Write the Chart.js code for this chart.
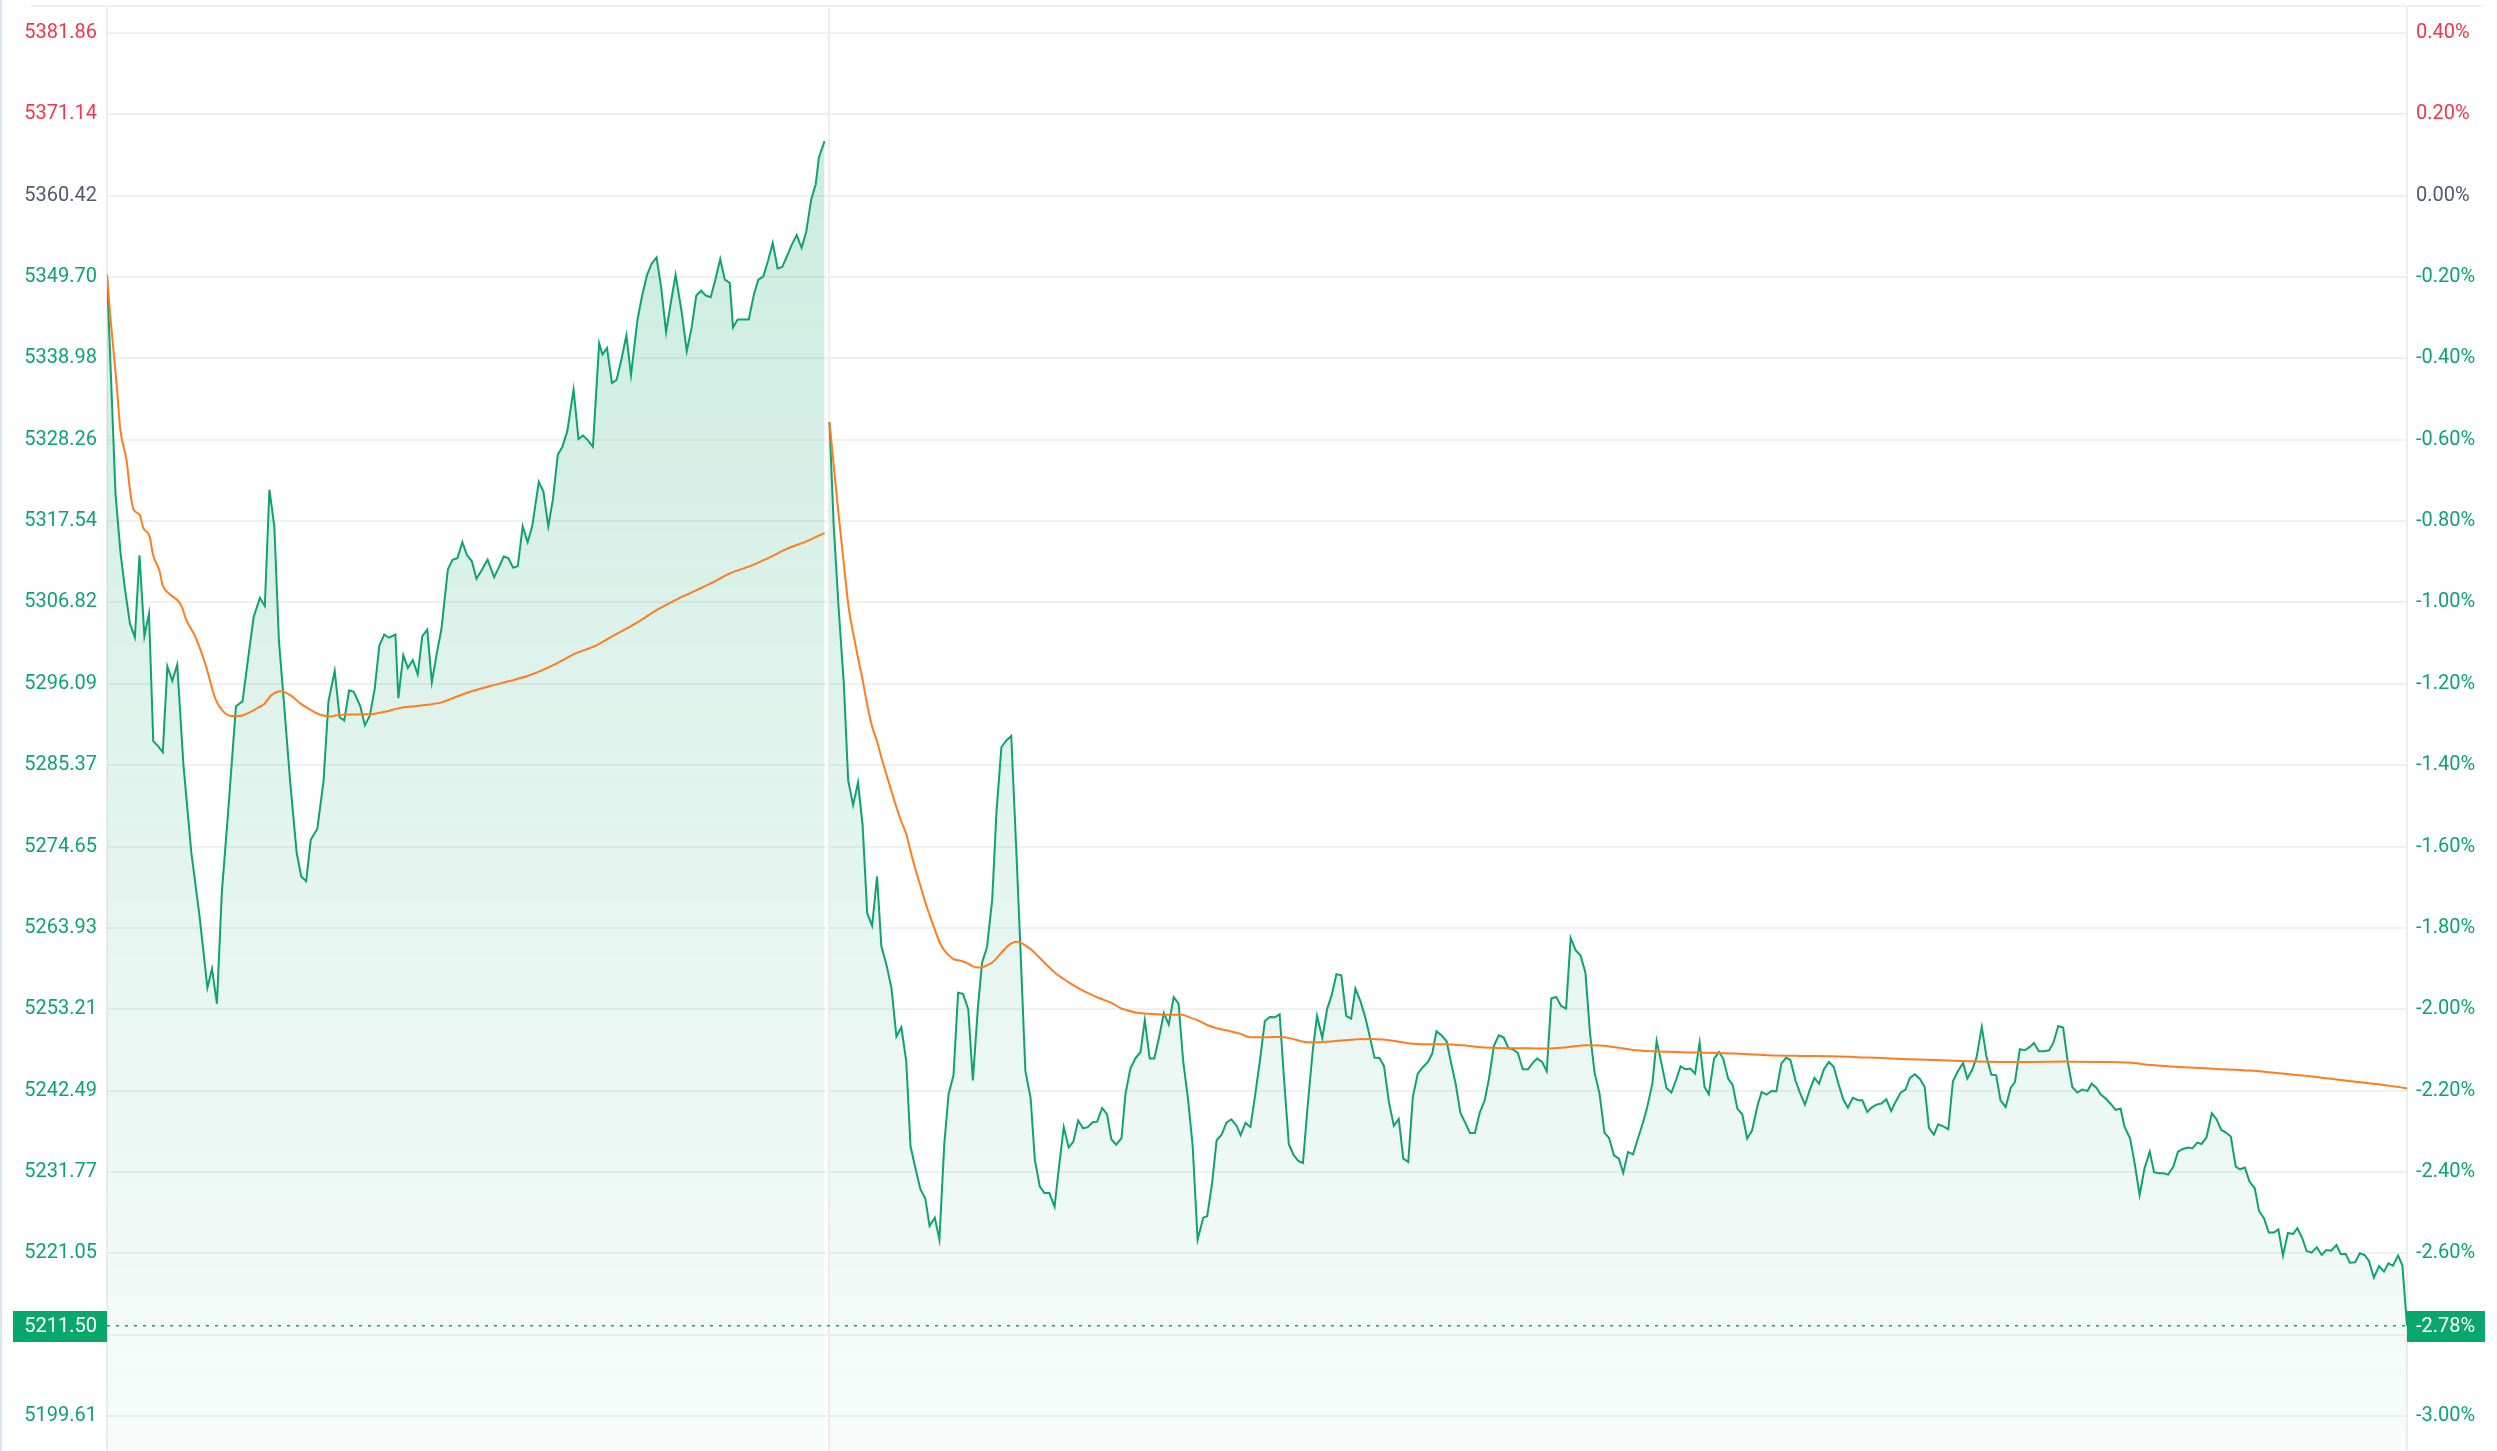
<!DOCTYPE html>
<html>
<head>
<meta charset="utf-8">
<title>分时走势</title>
<style>
  html, body { margin: 0; padding: 0; background: #ffffff; }
  #wrap { position: relative; width: 2497px; height: 1451px; overflow: hidden; }
  #myChart { position: absolute; left: 0; top: 0; }
  #edge { position: absolute; left: 0; top: 0; width: 2px; height: 1451px; background: #dfe5ef; }
  #topline { position: absolute; left: 31px; top: 5px; width: 2452px; height: 2px; background: #f1f1f1; }
</style>
<script src="https://cdn.jsdelivr.net/npm/chart.js@4.4.1/dist/chart.umd.min.js"></script>
</head>
<body>
<div id="wrap">
  <canvas id="myChart" width="2497" height="1451"></canvas>
  <div id="edge"></div>
  <div id="topline"></div>
</div>
<script>
// reference prices
const prevClose = 5360.42;
const lastPrice = 5211.50;
const lastPriceLabel = '5211.50';
const lastPctLabel = '-2.78%';
const sessionBreak = 220;

// tick labels (left: price, right: change %)
const priceLabels = ['5381.86', '5371.14', '5360.42', '5349.70', '5338.98', '5328.26', '5317.54', '5306.82', '5296.09',
    '5285.37', '5274.65', '5263.93', '5253.21', '5242.49', '5231.77', '5221.05', '5210.33', '5199.61'];
const pctLabels = ['0.40%', '0.20%', '0.00%', '-0.20%', '-0.40%', '-0.60%', '-0.80%', '-1.00%', '-1.20%',
    '-1.40%', '-1.60%', '-1.80%', '-2.00%', '-2.20%', '-2.40%', '-2.60%', '-2.80%', '-3.00%'];

// first segment: price
const amTime = [0, 2.6, 4.1, 5.5, 7.0, 8.5, 9.9, 11.4, 12.8, 14.1, 15.5, 17.0, 18.4, 19.9, 21.4, 23.3, 25.7, 28.2, 30.6, 32.0,
    33.5, 35.0, 36.9, 39.3, 41.3, 43.2, 44.7, 46.6, 48.1, 49.5, 51.0, 52.4, 53.9, 55.8, 57.8, 59.2, 60.7, 62.1, 64.1, 66.0,
    67.5, 69.4, 70.9, 72.3, 73.8, 75.2, 77.2, 78.6, 80.1, 81.6, 83.0, 84.5, 85.9, 87.9, 88.8, 90.3, 91.7, 93.2, 94.7, 96.1,
    97.6, 99.0, 100.5, 101.9, 103.9, 105.3, 106.8, 108.3, 109.7, 111.2, 112.6, 114.1, 116.0, 118.0, 119.4, 120.9, 122.3, 123.8, 125.2, 126.7,
    128.2, 129.6, 131.6, 133.0, 134.5, 135.9, 137.4, 138.8, 140.3, 142.2, 143.7, 145.1, 146.6, 148.1, 150.0, 151.0, 152.4, 153.9, 155.3, 156.8,
    158.3, 159.7, 161.7, 163.1, 164.6, 166.0, 167.5, 168.9, 170.4, 171.8, 173.3, 175.2, 176.7, 178.2, 179.6, 181.1, 182.5, 184.0, 185.4, 186.9,
    188.3, 189.8, 190.8, 192.2, 193.7, 195.6, 197.1, 198.5, 200.0, 201.5, 202.9, 204.4, 205.8, 207.3, 208.7, 210.2, 211.7, 213.1, 214.6, 216.0,
    217.0, 218.7];
const amPrice = [5350.00, 5321.06, 5313.41, 5308.50, 5304.02, 5302.22, 5313.03, 5302.39, 5305.34, 5288.54, 5287.91, 5287.07, 5298.40, 5296.51, 5298.61, 5285.39, 5273.86, 5265.47, 5256.04, 5258.55,
    5253.94, 5268.62, 5279.10, 5293.15, 5293.78, 5300.08, 5304.90, 5307.41, 5306.36, 5321.67, 5316.85, 5301.75, 5293.78, 5283.30, 5273.86, 5270.72, 5270.09, 5275.54, 5277.01, 5283.30,
    5293.78, 5297.77, 5291.69, 5291.27, 5295.25, 5295.04, 5293.15, 5290.64, 5291.89, 5295.46, 5301.12, 5302.59, 5302.17, 5302.59, 5294.20, 5299.87, 5298.19, 5299.24, 5297.35, 5302.38,
    5303.22, 5296.30, 5300.08, 5303.22, 5311.19, 5312.45, 5312.66, 5314.75, 5313.07, 5312.24, 5309.93, 5310.98, 5312.45, 5310.14, 5311.40, 5312.86, 5312.66, 5311.40, 5311.61, 5316.85,
    5314.75, 5316.85, 5322.72, 5321.46, 5316.85, 5320.41, 5326.28, 5327.33, 5329.42, 5334.87, 5328.37, 5328.80, 5328.17, 5327.33, 5340.96, 5339.50, 5340.33, 5335.72, 5336.14, 5338.87,
    5342.01, 5336.77, 5344.11, 5347.26, 5349.98, 5351.45, 5352.29, 5348.30, 5342.43, 5346.21, 5349.98, 5344.95, 5339.92, 5343.06, 5347.26, 5347.89, 5347.26, 5347.05, 5349.35, 5352.08,
    5349.35, 5348.93, 5343.06, 5344.11, 5344.11, 5344.11, 5347.26, 5349.35, 5349.77, 5351.87, 5354.18, 5350.82, 5351.03, 5352.50, 5353.97, 5355.22, 5353.54, 5355.64, 5359.84, 5361.93,
    5365.50, 5367.60];

// first segment: average price
const amAvgTime = [0, 1, 3, 4, 6, 7, 8, 10, 11, 13, 14, 16, 17, 19, 22, 23, 24, 27, 30, 33,
    35, 38, 41, 43, 46, 48, 50, 53, 56, 59, 62, 65, 68, 70, 76, 81, 85, 89, 95, 102,
    105, 110, 117, 123, 129, 136, 143, 149, 155, 161, 168, 174, 180, 184, 190, 196, 202, 207, 213, 218.7];
const amAvg = [5350.00, 5344.54, 5335.26, 5329.80, 5325.43, 5321.61, 5319.15, 5318.33, 5316.69, 5315.49, 5313.14, 5310.96, 5309.05, 5307.96, 5306.86, 5306.04, 5304.68, 5302.22, 5298.67, 5294.14,
    5292.67, 5291.85, 5291.90, 5292.23, 5292.94, 5293.48, 5294.57, 5295.12, 5294.57, 5293.48, 5292.67, 5292.01, 5291.79, 5291.95, 5292.06, 5292.12, 5292.45, 5292.89, 5293.21, 5293.65,
    5294.14, 5294.96, 5295.83, 5296.49, 5297.25, 5298.56, 5300.14, 5301.13, 5302.61, 5304.02, 5305.93, 5307.30, 5308.50, 5309.32, 5310.68, 5311.61, 5312.76, 5313.85, 5314.84, 5315.99];

// second segment: price
const pmTime = [220.2, 221.5, 223.0, 224.6, 225.9, 227.4, 228.9, 230.3, 231.7, 233.2, 234.7, 236.0, 237.6, 239.1, 240.6, 242.1, 243.6, 244.9, 246.4, 247.9,
    249.4, 250.7, 252.3, 253.7, 255.2, 256.5, 258.0, 259.4, 260.9, 262.5, 263.9, 265.4, 266.7, 268.2, 269.8, 271.1, 272.6, 274.1, 275.6, 277.1,
    278.4, 279.9, 281.5, 282.8, 284.3, 285.7, 287.2, 288.8, 290.1, 291.6, 293.1, 294.5, 296.0, 297.5, 298.9, 300.4, 301.8, 303.3, 304.8, 306.1,
    307.6, 309.2, 310.4, 311.9, 313.4, 315.0, 316.3, 317.8, 319.2, 320.7, 322.1, 323.6, 325.1, 326.6, 328.0, 329.5, 330.9, 332.4, 334.1, 335.3,
    336.8, 338.2, 339.7, 341.2, 342.7, 344.3, 345.5, 347.0, 348.5, 350.0, 351.4, 352.9, 354.4, 356.0, 357.4, 358.7, 360.2, 361.7, 363.1, 364.5,
    366.0, 367.5, 368.8, 370.4, 371.9, 373.2, 374.7, 376.2, 377.7, 379.2, 380.5, 382.1, 383.6, 384.9, 386.3, 387.8, 389.2, 390.7, 392.2, 393.7,
    395.1, 396.6, 398.0, 399.5, 401.1, 402.6, 403.9, 405.2, 406.7, 408.3, 409.7, 411.0, 412.5, 414.1, 415.4, 416.9, 418.4, 419.9, 421.2, 422.7,
    424.2, 425.7, 427.1, 428.6, 430.0, 431.5, 433.1, 434.6, 435.9, 437.4, 438.8, 440.2, 441.7, 443.2, 444.7, 446.1, 447.6, 449.1, 450.6, 452.0,
    453.4, 454.9, 456.4, 457.8, 459.3, 460.8, 462.1, 463.6, 465.1, 466.6, 468.1, 469.4, 471.0, 472.3, 473.8, 475.3, 476.8, 478.3, 479.6, 481.1,
    482.6, 484.0, 485.4, 486.9, 488.2, 489.8, 491.3, 492.6, 494.1, 495.5, 496.9, 498.4, 499.9, 501.4, 503.0, 504.3, 505.8, 507.3, 508.8, 510.3,
    511.8, 513.1, 514.6, 516.0, 517.5, 519.0, 520.4, 521.8, 523.3, 524.8, 526.3, 527.7, 529.2, 530.6, 532.1, 533.7, 535.0, 536.5, 537.8, 539.3,
    540.8, 542.3, 543.8, 545.1, 546.7, 548.2, 549.5, 551.0, 552.6, 554.0, 555.3, 556.8, 558.1, 559.7, 561.2, 562.6, 564.1, 565.7, 567.0, 568.5,
    569.8, 571.4, 572.8, 574.3, 575.8, 577.1, 578.7, 580.2, 581.5, 583.0, 584.5, 586.0, 587.3, 588.8, 590.4, 591.9, 593.2, 594.7, 596.2, 597.5,
    599.0, 600.5, 602.0, 603.6, 604.9, 606.4, 607.6, 609.1, 610.7, 612.2, 613.7, 614.9, 616.6, 618.0, 619.5, 621.0, 622.6, 623.9, 625.4, 626.9,
    628.2, 629.8, 631.2, 632.7, 634.2, 635.6, 637.1, 638.4, 639.9, 641.5, 642.9, 644.4, 645.7, 647.3, 648.8, 650.1, 651.6, 653.0, 654.6, 655.9,
    657.4, 658.9, 660.5, 661.8, 663.2, 664.7, 666.3, 667.6, 669.1, 670.4, 671.9, 673.5, 675.0, 676.4, 677.9, 679.5, 680.8, 682.3, 683.6, 685.2,
    686.6, 688.1, 689.4, 690.9, 692.5, 694.0, 695.3, 696.7, 698.3, 699.6, 701.0];
const pmPrice = [5330.57, 5316.84, 5305.99, 5295.87, 5283.37, 5280.11, 5283.08, 5277.44, 5265.87, 5264.21, 5270.71, 5261.53, 5259.00, 5255.97, 5249.61, 5250.84, 5246.36, 5235.15, 5232.26, 5229.51,
    5228.28, 5224.66, 5225.75, 5222.85, 5235.51, 5242.02, 5244.55, 5255.39, 5255.24, 5253.22, 5243.82, 5253.22, 5259.36, 5261.39, 5267.68, 5279.25, 5287.77, 5288.64, 5289.22, 5274.55,
    5261.17, 5245.12, 5241.51, 5233.34, 5229.87, 5229.00, 5229.00, 5227.19, 5232.26, 5237.68, 5235.00, 5235.73, 5238.55, 5237.53, 5237.68, 5238.33, 5238.40, 5240.20, 5239.34, 5236.08,
    5235.36, 5236.23, 5242.01, 5245.41, 5246.71, 5247.58, 5251.77, 5246.71, 5246.71, 5249.61, 5252.71, 5251.19, 5254.81, 5253.94, 5246.36, 5241.30, 5235.15, 5222.85, 5225.75, 5225.93,
    5230.24, 5235.95, 5236.69, 5238.27, 5238.71, 5237.84, 5236.61, 5238.23, 5237.70, 5242.10, 5246.49, 5251.67, 5252.20, 5252.16, 5252.55, 5244.29, 5235.42, 5233.97, 5233.22, 5232.96,
    5240.78, 5247.81, 5252.33, 5249.43, 5253.30, 5254.97, 5257.82, 5257.69, 5252.33, 5251.98, 5255.93, 5254.18, 5251.98, 5249.57, 5246.84, 5246.80, 5245.74, 5241.00, 5237.84, 5238.76,
    5233.53, 5233.09, 5241.66, 5244.73, 5245.61, 5246.27, 5247.37, 5250.31, 5249.78, 5248.99, 5246.05, 5243.50, 5239.55, 5238.14, 5236.91, 5236.91, 5239.59, 5241.22, 5244.07, 5248.38,
    5249.78, 5249.48, 5248.11, 5247.90, 5247.46, 5245.30, 5245.30, 5246.18, 5246.71, 5246.27, 5245.04, 5254.62, 5254.84, 5253.65, 5253.30, 5262.61, 5260.99, 5260.33, 5258.04, 5250.00,
    5244.82, 5242.10, 5236.96, 5236.25, 5233.97, 5233.53, 5231.64, 5234.41, 5234.10, 5236.17, 5238.23, 5240.25, 5243.41, 5249.04, 5246.05, 5242.84, 5242.23, 5243.99, 5245.70, 5245.30,
    5245.39, 5244.73, 5248.82, 5242.97, 5242.01, 5246.71, 5247.59, 5246.71, 5244.07, 5243.20, 5240.12, 5239.37, 5236.17, 5237.26, 5240.43, 5242.32, 5241.97, 5242.45, 5242.41, 5246.05,
    5246.84, 5246.49, 5243.85, 5242.19, 5240.65, 5242.62, 5244.16, 5243.41, 5245.30, 5246.27, 5245.61, 5243.41, 5241.31, 5240.25, 5241.53, 5241.22, 5241.22, 5239.68, 5240.25, 5240.65,
    5240.78, 5241.35, 5239.81, 5241.00, 5242.23, 5242.67, 5244.16, 5244.64, 5243.99, 5242.97, 5237.57, 5236.69, 5238.06, 5237.79, 5237.40, 5243.72, 5245.04, 5246.14, 5244.07, 5245.26,
    5246.84, 5250.88, 5247.06, 5244.60, 5244.51, 5241.22, 5240.34, 5242.84, 5243.63, 5247.94, 5247.81, 5248.25, 5248.77, 5247.68, 5247.68, 5247.81, 5248.77, 5251.00, 5250.79, 5246.58,
    5242.97, 5242.23, 5242.62, 5242.45, 5243.41, 5242.84, 5242.01, 5241.48, 5240.73, 5239.94, 5240.12, 5237.75, 5236.21, 5232.91, 5228.74, 5232.26, 5234.45, 5231.73, 5231.60, 5231.60,
    5231.42, 5232.47, 5234.45, 5234.80, 5234.98, 5234.89, 5235.64, 5235.46, 5236.34, 5239.50, 5238.76, 5237.31, 5237.00, 5236.43, 5232.47, 5232.12, 5232.34, 5230.50, 5229.62, 5226.63,
    5225.67, 5223.78, 5223.78, 5224.22, 5220.75, 5223.73, 5223.60, 5224.35, 5223.03, 5221.36, 5221.14, 5221.84, 5220.83, 5221.49, 5221.40, 5222.15, 5220.97, 5220.97, 5219.82, 5219.87,
    5221.05, 5220.83, 5220.04, 5217.85, 5219.38, 5218.64, 5219.74, 5219.43, 5220.75, 5219.43, 5211.50];

// second segment: average price
const pmAvgTime = [220.2, 223.0, 224.6, 226.1, 227.6, 228.9, 230.3, 231.7, 233.2, 234.7, 236.2, 237.8, 239.3, 240.6, 242.1, 243.7, 244.9, 246.4, 247.9, 249.4,
    250.8, 252.3, 253.7, 255.2, 256.6, 258.1, 259.6, 260.9, 262.5, 263.9, 265.4, 266.9, 268.2, 269.8, 271.3, 272.8, 274.3, 275.9, 277.4, 278.9,
    280.4, 282.0, 283.5, 285.0, 286.5, 288.1, 289.6, 291.6, 293.6, 296.2, 298.7, 301.3, 303.8, 306.3, 308.9, 310.9, 313.5, 316.5, 319.1, 322.1,
    325.1, 327.7, 329.2, 332.3, 335.3, 338.4, 341.4, 345.5, 348, 354, 358, 361, 365, 369, 373, 377, 381, 385, 389, 393,
    397, 402, 408, 415, 420, 427, 433, 439, 445, 451, 455, 459, 465, 471, 478, 484, 491, 496, 506, 516,
    526, 537, 547, 557, 567, 577, 587, 597, 608, 616, 623, 633, 643, 653, 663, 674, 684, 694, 701];
const pmAvg = [5330.57, 5318.28, 5311.78, 5306.00, 5302.38, 5299.49, 5296.60, 5293.34, 5290.45, 5288.50, 5286.11, 5283.80, 5281.63, 5279.83, 5277.95, 5276.14, 5274.04, 5271.66, 5269.49, 5267.32,
    5265.51, 5263.70, 5262.11, 5260.96, 5260.31, 5259.80, 5259.66, 5259.51, 5259.22, 5258.86, 5258.72, 5258.79, 5259.00, 5259.37, 5260.02, 5260.74, 5261.46, 5261.97, 5262.11, 5261.90,
    5261.46, 5260.96, 5260.31, 5259.66, 5259.00, 5258.35, 5257.78, 5257.20, 5256.62, 5255.97, 5255.39, 5254.88, 5254.45, 5254.02, 5253.37, 5253.08, 5252.79, 5252.64, 5252.57, 5252.50,
    5252.50, 5252.50, 5252.28, 5251.77, 5251.13, 5250.69, 5250.40, 5249.97, 5249.56, 5249.52, 5249.56, 5249.34, 5248.91, 5248.86, 5248.95, 5249.13, 5249.26, 5249.30, 5249.21, 5248.99,
    5248.69, 5248.60, 5248.60, 5248.38, 5248.16, 5248.07, 5248.07, 5248.03, 5248.20, 5248.47, 5248.42, 5248.25, 5247.85, 5247.68, 5247.59, 5247.50, 5247.46, 5247.37, 5247.15, 5247.06,
    5247.02, 5246.84, 5246.67, 5246.53, 5246.36, 5246.27, 5246.27, 5246.31, 5246.27, 5246.18, 5245.87, 5245.57, 5245.35, 5245.13, 5244.73, 5244.25, 5243.72, 5243.24, 5242.80];

(function () {
    "use strict";

    const UP = '#f2364f';
    const FLAT = '#4f5b71';
    const DOWN = '#0fa46f';
    const LINE = '#0fa36e';
    const AVG = '#ff7d1d';
    const BADGE = '#08a76b';
    const FONT = 'Roboto, "Noto Sans", sans-serif';

    const priceTicks = priceLabels.map(Number);
    const xMax = 701;
    const yMax = 5385.15;
    const yMin = 5195.00;

    function pts(xs, ys) {
        return xs.map((x, i) => ({ x: x, y: ys[i] }));
    }

    function tickColor(ctx) {
        const v = ctx.tick.value;
        if (Math.abs(v - prevClose) < 0.005) return FLAT;
        return v > prevClose ? UP : DOWN;
    }

    function areaFill(ctx) {
        const area = ctx.chart.chartArea;
        if (!area) return 'rgba(15,166,110,0.1)';
        const g = ctx.chart.ctx.createLinearGradient(0, area.top, 0, area.bottom);
        g.addColorStop(0, 'rgba(15,166,110,0.23)');
        g.addColorStop(1, 'rgba(15,166,110,0.03)');
        return g;
    }

    // no extra label padding around the plot
    function fitY(width) {
        return (s) => {
            s.width = width;
            s.paddingTop = 0;
            s.paddingBottom = 0;
        };
    }

    // last price badges on both axes
    const badges = {
        id: 'badges',
        afterDraw(chart) {
            const c = chart.ctx;
            const area = chart.chartArea;
            const y = Math.round(chart.scales.y.getPixelForValue(lastPrice));
            c.save();
            c.fillStyle = BADGE;
            c.fillRect(13, y - 15, area.left - 13, 31);
            c.fillRect(area.right, y - 15, 78, 31);
            c.fillStyle = '#ffffff';
            c.font = '20px ' + FONT;
            c.textBaseline = 'middle';
            c.textAlign = 'right';
            c.fillText(lastPriceLabel, area.left - 10, y + 1);
            c.textAlign = 'left';
            c.fillText(lastPctLabel, area.right + 9, y + 1);
            c.restore();
        }
    };

    const lineStyle = {
        borderColor: LINE,
        borderWidth: 2,
        pointRadius: 0,
        tension: 0,
        fill: 'start',
        backgroundColor: areaFill,
        order: 2
    };
    const avgStyle = {
        borderColor: AVG,
        borderWidth: 2,
        pointRadius: 0,
        fill: false,
        cubicInterpolationMode: 'monotone',
        order: 1
    };

    const ctx = document.getElementById('myChart').getContext('2d');
    new Chart(ctx, {
        type: 'line',
        data: {
            datasets: [
                Object.assign({ label: 'price-am', data: pts(amTime, amPrice) }, lineStyle),
                Object.assign({ label: 'price-pm', data: pts(pmTime, pmPrice) }, lineStyle),
                Object.assign({ label: 'avg-am', data: pts(amAvgTime, amAvg) }, avgStyle),
                Object.assign({ label: 'avg-pm', data: pts(pmAvgTime, pmAvg) }, avgStyle),
                {
                    label: 'last',
                    data: [{ x: 0, y: lastPrice }, { x: xMax, y: lastPrice }],
                    borderColor: LINE,
                    borderWidth: 1.5,
                    borderDash: [3, 6],
                    pointRadius: 0,
                    fill: false,
                    order: 3
                }
            ]
        },
        options: {
            responsive: false,
            animation: false,
            devicePixelRatio: 1,
            layout: { padding: { top: 8, left: 0, right: 0, bottom: 0 } },
            plugins: {
                legend: { display: false },
                tooltip: { enabled: false }
            },
            scales: {
                x: {
                    type: 'linear',
                    min: 0,
                    max: xMax,
                    ticks: { display: false },
                    grid: { color: '#eeeeee', lineWidth: 2, drawTicks: false },
                    border: { display: false },
                    afterBuildTicks: (s) => { s.ticks = [{ value: sessionBreak }]; },
                    afterFit: (s) => {
                        s.height = 0;
                        s.paddingLeft = 0;
                        s.paddingRight = 0;
                    }
                },
                y: {
                    position: 'left',
                    min: yMin,
                    max: yMax,
                    afterBuildTicks: (s) => { s.ticks = priceTicks.map(v => ({ value: v })); },
                    afterFit: fitY(107),
                    ticks: {
                        autoSkip: false,
                        padding: 10,
                        font: { family: FONT, size: 20 },
                        color: tickColor,
                        callback: (v, i) => priceLabels[i]
                    },
                    grid: { color: '#f1f1f1', lineWidth: 2, drawTicks: false },
                    border: { color: '#eeeeee', width: 2 }
                },
                y2: {
                    position: 'right',
                    min: yMin,
                    max: yMax,
                    afterBuildTicks: (s) => { s.ticks = priceTicks.map(v => ({ value: v })); },
                    afterFit: fitY(90),
                    ticks: {
                        autoSkip: false,
                        padding: 9,
                        font: { family: FONT, size: 20 },
                        color: tickColor,
                        callback: (v, i) => pctLabels[i]
                    },
                    grid: { display: false, drawTicks: false },
                    border: { color: '#eeeeee', width: 2 }
                }
            }
        },
        plugins: [badges]
    });
})();
</script>
</body>
</html>
